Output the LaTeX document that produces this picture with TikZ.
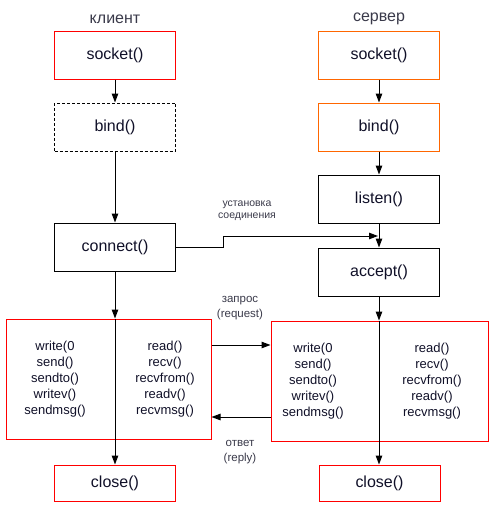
\documentclass[tikz,border=0pt]{standalone}
\usepackage{fontspec}
\setmainfont{Liberation Sans}
\usetikzlibrary{arrows.meta}
\definecolor{lblgray}{HTML}{3A3A4A}
\definecolor{boxorange}{HTML}{FF6600}
\definecolor{txtnavy}{HTML}{101028}
\tikzset{
  fnbox/.style={draw, line width=1pt, minimum width=121pt, minimum height=48pt, inner sep=0pt,
    text=txtnavy, font=\fontsize{16}{19}\selectfont},
  bigbox/.style={draw=red, line width=1pt, minimum height=120pt, inner sep=0pt},
  calls/.style={align=center, text=txtnavy, font=\fontsize{13}{16}\selectfont, inner sep=0pt},
  side/.style={text=lblgray, font=\fontsize{16}{19}\selectfont},
  note/.style={align=center, text=lblgray, font=\fontsize{11.5}{15}\selectfont, inner sep=0pt},
  flow/.style={line width=1pt, -{Triangle[length=9pt,width=6.5pt]}},
}
\begin{document}
\begin{tikzpicture}[x=1pt,y=-1pt]
\useasboundingbox (0,0) rectangle (497,509);
% headers
\node[side] (hc) at (115,19) {клиент};
\node[side] (hs) at (379,19) {сервер};
% client
\node[fnbox, draw=red] (csock) at (115,55) {socket()};
\node[fnbox, dash pattern=on 3pt off 2pt] (cbind) at (115,127) {bind()};
\node[fnbox] (cconn) at (115,247) {connect()};
\node[bigbox, minimum width=205pt] (cio) at (108.5,379) {};
\node[calls] (cw) at (55,379) {write(0\\send()\\sendto()\\writev()\\sendmsg()};
\node[calls] (cr) at (165,379) {read()\\recv()\\recvfrom()\\readv()\\recvmsg()};
\node[fnbox, draw=red, minimum height=36pt] (cclose) at (115,483) {close()};
% server
\node[fnbox, draw=boxorange] (ssock) at (379,55) {socket()};
\node[fnbox, draw=boxorange] (sbind) at (379,127) {bind()};
\node[fnbox] (slisten) at (379,199) {listen()};
\node[fnbox] (saccept) at (379,272) {accept()};
\node[bigbox, minimum width=217pt] (sio) at (379.5,381) {};
\node[calls] (sw) at (313,381) {write(0\\send()\\sendto()\\writev()\\sendmsg()};
\node[calls] (sr) at (432,381) {read()\\recv()\\recvfrom()\\readv()\\recvmsg()};
\node[fnbox, draw=red, minimum height=36pt] (sclose) at (379.5,483) {close()};
% client flow
\draw[flow] (csock) -- (cbind);
\draw[flow] (cbind) -- (cconn);
\draw[flow] (cconn.south) -- (cconn.south |- cio.north);
\draw[flow] (cconn.south |- cio.north) -- (cclose.north);
% server flow
\draw[flow] (ssock) -- (sbind);
\draw[flow] (sbind) -- (slisten);
\draw[flow] (slisten) -- (saccept);
\draw[flow] (saccept.south) -- (saccept.south |- sio.north);
\draw[flow] (saccept.south |- sio.north) -- (saccept.south |- sclose.north);
% connection
\coordinate (cj) at (378,236);
\draw[flow] (cconn.east) -- (223,247) -- (223,236) -- (cj);
\node[note, font=\fontsize{10.5}{12}\selectfont] (lconn) at (247,211) {установка\\соединения};
% request / reply
\draw[flow] (cio.east |- 0,345) -- (sio.west |- 0,345);
\draw[flow] (sio.west |- 0,417) -- (cio.east |- 0,417);
\node[note] (lreq) at (240,308) {запрос\\(request)};
\node[note] (lrep) at (240,452) {ответ\\(reply)};
\end{tikzpicture}
\end{document}
